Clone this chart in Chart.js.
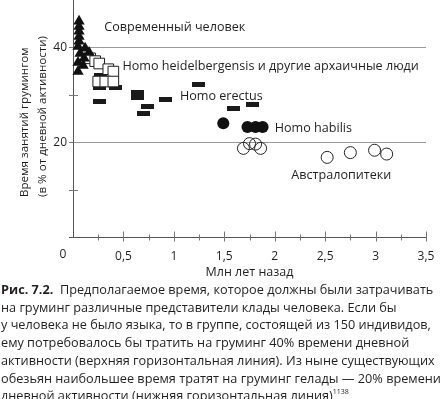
<!DOCTYPE html>
<html><head><meta charset="utf-8">
<script src="https://cdn.jsdelivr.net/npm/chart.js@4"></script>
<style>
html,body{margin:0;padding:0;background:#fff;}
#wrap{width:444px;height:399px;position:relative;overflow:hidden;background:#fff;}
canvas{display:block;}
#cap{position:absolute;left:1px;top:281px;font-family:'Open Sans',sans-serif;font-size:13px;line-height:17.7px;color:#231f20;white-space:nowrap;}
#cap sup{font-size:7px;vertical-align:top;line-height:10px;}
</style></head><body>
<div id="wrap"><canvas id="c" width="444" height="281"></canvas>
<div id="cap"><div><b>Рис. 7.2.</b>&nbsp; Предполагаемое время, которое должны были затрачивать</div>
<div>на груминг различные представители клады человека. Если бы</div>
<div id="fitline">у человека не было языка, то в группе, состоящей из 150 индивидов,</div>
<div>ему потребовалось бы тратить на груминг 40% времени дневной</div>
<div>активности (верхняя горизонтальная линия). Из ныне существующих</div>
<div>обезьян наибольшее время тратят на груминг гелады — 20% времени</div>
<div>дневной активности (нижняя горизонтальная линия)<sup>1138</sup></div></div>
</div>
<script>
// ---- data (millions of years ago, % of day spent grooming) ----
const modernX = [0.06,0.06,0.06,0.06,0.06,0.05,0.12,0.16,0.07,0.11,0.05,0.10,0.05];
const modernY = [45.5,44.4,43.4,42.3,41.3,40.2,39.8,38.9,38.7,37.7,36.8,36.2,34.9];
const heidelX = [0.17,0.22,0.26,0.35,0.40,0.25,0.32,0.40];
const heidelY = [37.7,37.1,36.6,35.4,34.9,32.8,32.8,32.8];
const erectusX = [0.27,0.26,0.42,0.26,0.64,0.64,0.74,0.70,0.92,1.24,1.59,1.78];
const erectusY = [34.0,31.5,31.5,28.5,30.5,29.5,27.6,26.0,29.1,32.1,27.2,28.0];
const habilisX = [1.49,1.73,1.81,1.88];
const habilisY = [24.0,23.2,23.2,23.2];
const australX = [1.69,1.75,1.81,1.86,2.52,2.75,2.99,3.11];
const australY = [18.7,19.7,19.6,18.7,16.8,17.8,18.3,17.5];
const refLines = [20, 40];
const xTickLabels = ['0','0,5','1','1,5','2','2,5','3','3,5'];
const yTickLabels = {20:'20', 40:'40'};
const groupLabels = ['Современный человек','Homo heidelbergensis и другие архаичные люди','Homo erectus','Homo habilis','Австралопитеки'];
const groupLabelAnchors = [[0.31,44.2],[0.49,35.9],[1.06,29.7],[2.0,22.9],[2.165,13.05]];
const yTitle = ['Время занятий грумингом','(в % от дневной активности)'];
const xTitle = 'Млн лет назад';

const pts = (xs, ys) => xs.map((x, i) => ({x, y: ys[i]}));
const FONT = "'Open Sans', sans-serif";
const INK = '#231f20';

// fit caption to the reference column width
(function(){
  const el = document.getElementById('fitline');
  const w = el.scrollWidth;
  if (w > 0) document.getElementById('cap').style.fontSize = (13 * 440 / w).toFixed(2) + 'px';
})();

const bar = document.createElement('canvas');
bar.width = 13; bar.height = 5;
(function(){ const g = bar.getContext('2d'); g.fillStyle = '#1a1a1a'; g.fillRect(0,0,13,5); })();

const decor = {
  id: 'decor',
  beforeDatasetsDraw(chart) {
    const {ctx} = chart; const xs = chart.scales.x, ys = chart.scales.y;
    ctx.save();
    const y0 = Math.round(ys.getPixelForValue(0)) + 0.5;
    const x0 = xs.getPixelForValue(0);
    ctx.strokeStyle = '#555'; ctx.lineWidth = 1;
    ctx.beginPath(); ctx.moveTo(x0 - 4, y0); ctx.lineTo(xs.getPixelForValue(3.5) + 0.5, y0); ctx.stroke();
    ctx.beginPath(); ctx.moveTo(Math.round(x0) + 0.5, y0); ctx.lineTo(Math.round(x0) + 0.5, 0); ctx.stroke();
    ctx.strokeStyle = '#777';
    for (let v = 0.25; v <= 3.5001; v += 0.25) {
      const px = Math.round(xs.getPixelForValue(v)) + 0.5;
      const major = Math.abs(v*2 - Math.round(v*2)) < 1e-6;
      ctx.beginPath();
      ctx.moveTo(px, y0 - (major ? 6 : 3)); ctx.lineTo(px, y0 + (major ? 4 : 3));
      ctx.stroke();
    }
    for (let v = 10; v <= 40; v += 10) {
      const py = Math.round(ys.getPixelForValue(v)) + 0.5;
      ctx.beginPath();
      ctx.moveTo(x0 - 4, py); ctx.lineTo(x0 + (refLines.includes(v) ? 0 : 5), py);
      ctx.stroke();
    }
    ctx.restore();
  },
  afterDatasetsDraw(chart) {
    const {ctx} = chart; const xs = chart.scales.x, ys = chart.scales.y;
    ctx.save();
    ctx.fillStyle = INK;
    ctx.font = '12.6px ' + FONT;
    ctx.textBaseline = 'middle'; ctx.textAlign = 'left';
    groupLabels.forEach((t, i) => {
      const [gx, gy] = groupLabelAnchors[i];
      ctx.fillText(t, xs.getPixelForValue(gx), ys.getPixelForValue(gy));
    });
    // origin label
    ctx.font = '12px ' + FONT; ctx.textAlign = 'center';
    ctx.fillText(xTickLabels[0], xs.getPixelForValue(0) - 10, ys.getPixelForValue(0) + 18);
    // y title
    ctx.font = '11.6px ' + FONT;
    ctx.translate(0, 197); ctx.rotate(-Math.PI/2);
    ctx.textAlign = 'left';
    ctx.fillText(yTitle[0], 0, 25);
    ctx.fillText(yTitle[1], 0, 43);
    ctx.restore();
  }
};

new Chart(document.getElementById('c'), {
  type: 'scatter',
  data: {
    datasets: [
      {label: 'modern', data: pts(modernX, modernY), pointStyle: 'triangle', pointRadius: 6.5, backgroundColor: '#111', borderColor: '#111', borderWidth: 0},
      {label: 'habilis', data: pts(habilisX, habilisY), pointStyle: 'circle', pointRadius: 6, backgroundColor: '#111', borderColor: '#111', borderWidth: 0},
      {label: 'austral', data: pts(australX, australY), pointStyle: 'circle', pointRadius: 6, backgroundColor: 'rgba(255,255,255,0)', borderColor: '#222', borderWidth: 1},
      {label: 'heidel', data: pts(heidelX, heidelY), pointStyle: 'rect', pointRadius: 7.5, backgroundColor: '#fff', borderColor: '#222', borderWidth: 1},
      {label: 'erectus', data: pts(erectusX, erectusY), pointStyle: bar, pointRadius: 6}
    ]
  },
  options: {
    responsive: false, animation: false, devicePixelRatio: 1,
    layout: {autoPadding: false, padding: {left: 0, right: 18, top: 0, bottom: 0}},
    plugins: {legend: {display: false}, tooltip: {enabled: false}},
    elements: {point: {hoverRadius: 6}},
    clip: false,
    scales: {
      x: {
        type: 'linear', min: 0, max: 3.5,
        afterFit(s) { s.height = 44; s.paddingLeft = 0; s.paddingRight = 0; },
        afterBuildTicks(s) { s.ticks = xTickLabels.map((t, i) => ({value: i * 0.5})); },
        ticks: {padding: 12, color: INK, font: {family: FONT, size: 12},
          callback: (v) => v === 0 ? '' : xTickLabels[Math.round(v * 2)]},
        grid: {display: false, drawTicks: false},
        border: {display: false},
        title: {display: true, text: xTitle, color: INK, font: {family: FONT, size: 12.5}, padding: {top: 0, bottom: 1}}
      },
      y: {
        type: 'linear', min: 0, max: 50,
        afterFit(s) { s.width = 73; s.paddingTop = 0; s.paddingBottom = 0; },
        afterBuildTicks(s) { s.ticks = [0,10,20,30,40].map(v => ({value: v})); },
        ticks: {padding: 6, color: INK, font: {family: FONT, size: 12},
          callback: (v) => yTickLabels[v] || ''},
        grid: {drawTicks: false, lineWidth: 1,
          color: (c) => refLines.includes(c.tick && c.tick.value) ? '#9a9a9a' : 'rgba(0,0,0,0)'},
        border: {display: false}
      }
    }
  },
  plugins: [decor]
});
</script>
</body></html>
